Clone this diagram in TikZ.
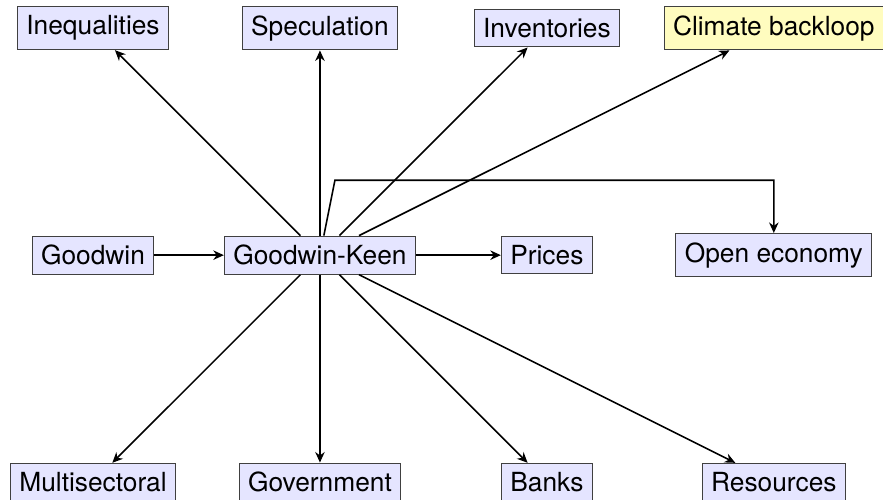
\documentclass[tikz,border=0pt]{standalone}
\usepackage{fontspec}
\setmainfont{TeX Gyre Heros}
\usetikzlibrary{arrows.meta, positioning, calc}

\begin{document}
\begin{tikzpicture}[
    x=3.03cm, y=3.03cm,
    model/.style={draw=black!75, fill=blue!10, inner sep=3.4pt},
    newmodel/.style={model, fill=yellow!25},
    arrow/.style={-{Stealth[length=4pt, width=3.6pt]}, semithick}
]
    \useasboundingbox (-1.242cm,-0.227cm) rectangle (10.548cm,6.437cm);
    % middle row
    \node[model] (goodwin) at (0,1) {Goodwin};
    \node[model] (gk) at (1,1) {Goodwin-Keen};
    \node[model] (prices) at (2,1) {Prices};
    \node[model] (open) at (3,1) {Open economy};
    % top row
    \node[model] (ineq) at (0,2) {Inequalities};
    \node[model] (spec) at (1,2) {Speculation};
    \node[model] (inv) at (2,2) {Inventories};
    \node[newmodel] (clim) at (3,2) {Climate backloop};
    % bottom row
    \node[model] (multi) at (0,0) {Multisectoral};
    \node[model] (gov) at (1,0) {Government};
    \node[model] (banks) at (2,0) {Banks};
    \node[model] (res) at (3,0) {Resources};
    \coordinate (bend) at ($(gk)+(0.2cm,1cm)$);

    \draw[arrow] (goodwin) -- (gk);
    \draw[arrow] (gk) -- (prices);
    \draw[arrow] (gk) -- (bend) -| (open);
    \foreach \target in {ineq, spec, inv, clim, multi, gov, banks, res}
        \draw[arrow] (gk) -- (\target);
\end{tikzpicture}
\end{document}
